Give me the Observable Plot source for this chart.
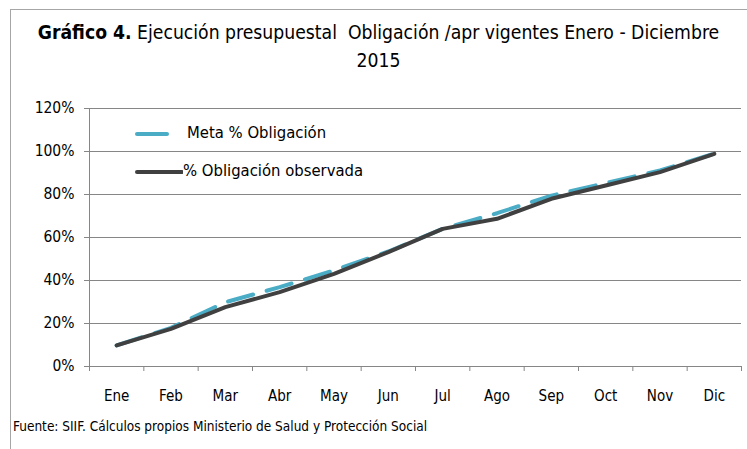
<!DOCTYPE html>
<html>
<head>
<meta charset="utf-8">
<script src="https://cdn.jsdelivr.net/npm/d3@7"></script>
<script src="https://cdn.jsdelivr.net/npm/@observablehq/plot@0.6"></script>
<style>
  html, body { margin: 0; padding: 0; background: #fff; }
  #wrap { position: relative; width: 747px; height: 449px; overflow: hidden; font-family: "Liberation Sans Narrow", "DejaVu Sans Condensed", sans-serif; color: #000; }
  #frame { position: absolute; left: 10px; top: 9px; width: 760px; height: 460px; border: 1px solid #a6a6a6; box-sizing: border-box; }
  #title { position: absolute; left: 0; top: 19px; width: 757px; text-align: center; font-size: 19.2px; line-height: 28px; }
  #chart { position: absolute; left: 0; top: 0; }
  .leg { position: absolute; font-size: 16.5px; white-space: nowrap; }
  #caption { position: absolute; left: 13px; top: 418px; font-size: 13.5px; }
</style>
</head>
<body>
<div id="wrap">
  <div id="frame"></div>
  <div id="chart"></div>
  <div id="title"><b>Gráfico 4.</b> Ejecución presupuestal&nbsp; Obligación /apr vigentes Enero - Diciembre<br>2015</div>
  <div class="leg" id="leg1" style="left:135px; top:123px;"><svg width="50" height="10" style="vertical-align:middle"><line x1="2" y1="5" x2="32" y2="5" stroke="#4bacc6" stroke-width="4" stroke-linecap="round"/></svg><span style="margin-left:2px">Meta % Obligación</span></div>
  <div class="leg" id="leg2" style="left:135px; top:161px;"><svg width="48" height="10" style="vertical-align:middle"><line x1="2" y1="5" x2="47" y2="5" stroke="#404040" stroke-width="4" stroke-linecap="round"/></svg><span>% Obligación observada</span></div>
  <div id="caption">Fuente: SIIF. Cálculos propios Ministerio de Salud y Protección Social</div>
</div>
<script>
const months = ["Ene","Feb","Mar","Abr","May","Jun","Jul","Ago","Sep","Oct","Nov","Dic"];
const meta = [0.098, 0.180, 0.299, 0.369, 0.447, 0.535, 0.640, 0.713, 0.795, 0.853, 0.912, 0.990];
const observada = [0.098, 0.175, 0.276, 0.346, 0.431, 0.532, 0.640, 0.687, 0.780, 0.842, 0.904, 0.989];
const yTicks = [0, 0.2, 0.4, 0.6, 0.8, 1.0, 1.2];

const rows = months.map((m, i) => ({i, m, v: meta[i], s: "Meta % Obligación"}));
const rowsObs = months.map((m, i) => ({i, m, v: observada[i], s: "% Obligación observada"}));
const boundaries = d3.range(months.length + 1).map(k => k - 0.5);

const chart = Plot.plot({
  width: 747,
  height: 449,
  marginLeft: 89,
  marginRight: 6,
  marginTop: 108,
  marginBottom: 83,
  style: { fontFamily: '"Liberation Sans Narrow", "DejaVu Sans Condensed", sans-serif', fontSize: "15px", background: "transparent", color: "#000" },
  x: { type: "linear", domain: [-0.5, months.length - 0.5] },
  y: { domain: [0, 1.2] },
  marks: [
    Plot.gridY(yTicks, { stroke: "#868686", strokeOpacity: 1, strokeWidth: 1 }),
    Plot.ruleX([-0.5], { stroke: "#868686" }),
    Plot.ruleY([0], { stroke: "#868686" }),
    Plot.axisY(yTicks, { tickFormat: d => Math.round(d * 100) + "%", tickSize: 5, tickPadding: 10, stroke: "#868686", fill: "#000", fontSize: 15.5, label: null }),
    Plot.axisX(boundaries, { tickSize: 5, tickFormat: () => "", stroke: "#868686", label: null }),
    Plot.axisX(d3.range(months.length), { tickSize: 0, tickPadding: 24, tickFormat: i => months[i], fontSize: 15, fill: "#000", label: null }),
    Plot.line(rows, { x: "i", y: "v", stroke: "#4bacc6", strokeWidth: 4, strokeDasharray: "26,14", strokeLinecap: "round", strokeLinejoin: "round" }),
    Plot.line(rowsObs, { x: "i", y: "v", stroke: "#404040", strokeWidth: 4, strokeLinecap: "round", strokeLinejoin: "round" })
  ]
});
document.getElementById("chart").appendChild(chart);
</script>
</body>
</html>
